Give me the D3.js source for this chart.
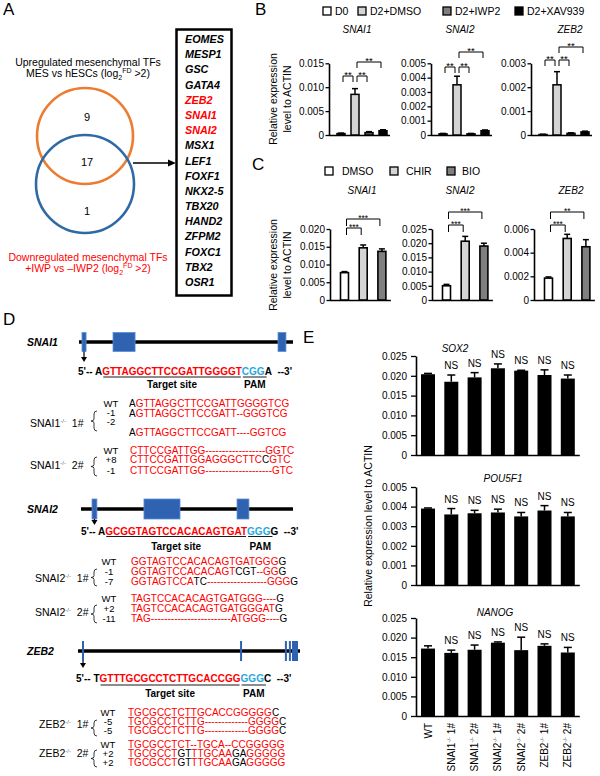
<!DOCTYPE html>
<html>
<head>
<meta charset="utf-8">
<script src="https://cdn.jsdelivr.net/npm/d3@7"></script>
<style>
  body { margin: 0; background: #fff; }
  text { white-space: pre; }
</style>
</head>
<body>
<svg id="fig" width="600" height="776"></svg>
<script>
// ---------------- data ----------------
const vennCounts = [9, 17, 1];   // up only, shared, down only
const sharedTFs = ["EOMES", "MESP1", "GSC", "GATA4", "ZEB2", "SNAI1", "SNAI2", "MSX1", "LEF1",
  "FOXF1", "NKX2-5", "TBX20", "HAND2", "ZFPM2", "FOXC1", "TBX2", "OSR1"];
const highlightTFs = ["ZEB2", "SNAI1", "SNAI2"];

const geneNames = ["SNAI1", "SNAI2", "ZEB2"];

// panel B
const bGroups = ["D0", "D2+DMSO", "D2+IWP2", "D2+XAV939"];
const bMean = [
  [0.0003, 0.0085, 0.0005, 0.0009],
  [0.00008, 0.0035, 0.00008, 0.0003],
  [0.00002, 0.0021, 0.00007, 0.00013]
];
const bErr = [
  [0.0001, 0.0012, 0.0002, 0.0002],
  [0.00003, 0.0006, 0.00003, 0.00005],
  [0.00001, 0.00055, 0.00002, 0.00003]
];
const bYMax = [0.015, 0.005, 0.003];
const bYStep = [0.005, 0.001, 0.001];
const bSig = [
  [[0, 1, "**", 0], [1, 2, "**", 0], [1, 3, "**", 1]],
  [[0, 1, "**", 0], [1, 2, "**", 0], [1, 3, "**", 1]],
  [[0, 1, "**", 0], [1, 2, "**", 0], [1, 3, "**", 1]]
];

// panel C
const cGroups = ["DMSO", "CHIR", "BIO"];
const cMean = [
  [0.0077, 0.0147, 0.0137],
  [0.0050, 0.0207, 0.0190],
  [0.00185, 0.0052, 0.0045]
];
const cErr = [
  [0.0003, 0.0008, 0.0007],
  [0.0005, 0.0017, 0.0010],
  [0.0001, 0.00035, 0.0006]
];
const cYMax = [0.020, 0.025, 0.006];
const cYStep = [0.005, 0.005, 0.002];
const cSig = [
  [[0, 1, "***", 0], [0, 2, "***", 1]],
  [[0, 1, "***", 0], [0, 2, "***", 1]],
  [[0, 1, "***", 0], [0, 2, "**", 1]]
];

// panel D
const exons = [
  [[1.4, 3.3], [15.9, 26.2], [93.0, 96.7]],
  [[5.2, 7.5], [29.7, 46.7], [73.6, 79.2]],
  [[1.8, 2.7], [73.0, 73.9], [93.2, 94.1], [95.0, 95.9], [96.4, 99.1]]
];
const targetSeqs = [
  [["5'-- A", "k"], ["GTTAGGCTTCCGATTGGGGT", "r"], ["CGG", "b"], ["A", "k"], ["  --3'", "k"]],
  [["5'-- A", "k"], ["GCGGTAGTCCACACAGTGAT", "r"], ["GGG", "b"], ["G", "k"], ["  --3'", "k"]],
  [["5'-- T", "k"], ["GTTTGCGCCTCTTGCACCGG", "r"], ["GGG", "b"], ["C", "k"], ["  --3'", "k"]]
];
const koClones = [
  { gene: "SNAI1", clone: "1#", rows: [
    ["WT", [["A", "k"], ["GTTAGGCTTCCGATTGGGGTCG", "r"]]],
    ["-1", [["A", "k"], ["GTTAGGCTTCCGATT--GGGTCG", "r"]]],
    ["-2", [["A", "k"], ["GTTAGGCTTCCGATT----GGTCG", "r"]]]] },
  { gene: "SNAI1", clone: "2#", rows: [
    ["WT", [["CTTCCGATTGG------------------GGTC", "r"]]],
    ["+8", [["CTTCCGATTGGAGGGCTTC", "r"], ["C", "k"], ["GTC", "r"]]],
    ["-1", [["CTTCCGATTGG--------------------GTC", "r"]]]] },
  { gene: "SNAI2", clone: "1#", rows: [
    ["WT", [["GGTAGTCCACACAGTGATGGG", "r"], ["G", "k"]]],
    ["-1", [["GGTAGTCCACACAGT", "r"], ["CGT", "k"], ["--GG", "r"], ["G", "k"]]],
    ["-7", [["GGTAGTCCA", "r"], ["TC", "k"], ["------------------GGG", "r"], ["G", "k"]]]] },
  { gene: "SNAI2", clone: "2#", rows: [
    ["WT", [["TAGTCCACACAGTGATGGG----", "r"], ["G", "k"]]],
    ["+2", [["TAGTCCACACAGTGATGGGAT", "r"], ["G", "k"]]],
    ["-11", [["TAG------------------------ATGGG----", "r"], ["G", "k"]]]] },
  { gene: "ZEB2", clone: "1#", rows: [
    ["WT", [["TGCGCCTCTTGCACCGGGGG", "r"], ["C", "k"]]],
    ["-5", [["TGCGCCTCTTG-------------GGGG", "r"], ["C", "k"]]],
    ["-5", [["TGCGCCTCTTG-------------GGGG", "r"], ["C", "k"]]]] },
  { gene: "ZEB2", clone: "2#", rows: [
    ["WT", [["TGCGCCTCT--TGCA--CCGGGGG", "r"]]],
    ["+2", [["TGCGCCT", "r"], ["GT", "k"], ["TTGCAA", "r"], ["GA", "k"], ["GGGGG", "r"]]],
    ["+2", [["TGCGCCT", "r"], ["GT", "k"], ["TTGCAA", "r"], ["GA", "k"], ["GGGGG", "r"]]]] }
];

// panel E
const eLines = [["WT", ""], ["SNAI1", "1#"], ["SNAI1", "2#"], ["SNAI2", "1#"], ["SNAI2", "2#"], ["ZEB2", "1#"], ["ZEB2", "2#"]];
const eGenes = ["SOX2", "POU5F1", "NANOG"];
const eMean = [
  [0.0204, 0.0185, 0.0196, 0.0219, 0.0213, 0.0202, 0.0193],
  [0.0039, 0.0036, 0.00366, 0.0037, 0.0035, 0.0038, 0.0035],
  [0.0172, 0.0161, 0.0169, 0.0187, 0.0168, 0.0179, 0.0162]
];
const eErr = [
  [0.0002, 0.0017, 0.0012, 0.0011, 0.0001, 0.0013, 0.0009],
  [0.00003, 0.0003, 0.00015, 0.00017, 0.0002, 0.00025, 0.0002],
  [0.0007, 0.0007, 0.0012, 0.0002, 0.0033, 0.0005, 0.0013]
];
const eYMax = [0.025, 0.005, 0.025];
const eYStep = [0.005, 0.001, 0.005];
const eSig = ["", "NS", "NS", "NS", "NS", "NS", "NS"];

// ---------------- drawing ----------------
const FONT = "'Liberation Sans', Arial, sans-serif";
const RED = "#ff0000";
const COL = { k: "#000", r: RED, b: "#29a8e0" };
const svg = d3.select("#fig").attr("font-family", FONT);

function panelLabel(t, x, y) {
  svg.append("text").attr("x", x).attr("y", y).attr("font-size", 17).text(t);
}

function legend(items, fills, boxX, textX, yc) {
  items.forEach((t, i) => {
    svg.append("rect").attr("x", boxX[i]).attr("y", yc - 4).attr("width", 8).attr("height", 8)
      .attr("fill", fills[i]).attr("stroke", "#000").attr("stroke-width", 1.3);
    svg.append("text").attr("x", textX[i]).attr("y", yc + 3.8).attr("font-size", 10.5).text(t);
  });
}

function italicTitle(t, x, y) {
  svg.append("text").attr("x", x).attr("y", y).attr("text-anchor", "middle")
    .attr("font-size", 10).attr("font-style", "italic").text(t);
}

function yLabel(lines, xs, yc) {
  lines.forEach((t, i) => {
    svg.append("text").attr("transform", `translate(${xs[i]},${yc}) rotate(-90)`)
      .attr("text-anchor", "middle").attr("font-size", 10.5).text(t);
  });
}

function barChart(o) {
  const g = svg.append("g");
  const y = d3.scaleLinear().domain([0, o.yMax]).range([o.y0, o.yTop]);
  const x = d3.scalePoint().domain(o.cats)
    .range([o.axisX + o.first, o.axisX + o.first + o.step * (o.cats.length - 1)]);
  const ticks = d3.range(0, o.yMax + o.yStep / 2, o.yStep);

  const ax = g.append("g").attr("transform", `translate(${o.axisX},0)`)
    .call(d3.axisLeft(y).tickValues(ticks).tickSize(o.tickSize).tickSizeOuter(0).tickPadding(o.tickPad)
      .tickFormat(d => d === 0 ? "0" : d3.format(".3f")(d)));
  ax.attr("font-family", FONT).attr("font-size", 10);
  ax.selectAll(".tick line").attr("stroke-width", 1.3);
  ax.select(".domain").attr("stroke-width", 1.6);

  g.append("line").attr("x1", o.axisX).attr("x2", x.range()[1] + o.tail)
    .attr("y1", o.y0 + 0.5).attr("y2", o.y0 + 0.5).attr("stroke", "#000").attr("stroke-width", 1.6);

  // error bars
  o.cats.forEach((c, i) => {
    const top = y(o.mean[i] + o.err[i]);
    g.append("line").attr("x1", x(c)).attr("x2", x(c)).attr("y1", y(o.mean[i])).attr("y2", top)
      .attr("stroke", "#000").attr("stroke-width", 1.5);
    g.append("line").attr("x1", x(c) - o.capW / 2).attr("x2", x(c) + o.capW / 2)
      .attr("y1", top).attr("y2", top).attr("stroke", "#000").attr("stroke-width", 1.5);
  });

  g.selectAll("rect.bar").data(o.cats).join("rect").attr("class", "bar")
    .attr("x", d => x(d) - o.barW / 2)
    .attr("y", (d, i) => y(o.mean[i]))
    .attr("width", o.barW)
    .attr("height", (d, i) => o.y0 - y(o.mean[i]))
    .attr("fill", (d, i) => o.fills[i])
    .attr("stroke", "#000").attr("stroke-width", o.sw);

  // significance brackets
  (o.sig || []).forEach(([a, b, lab, lvl]) => {
    const x1 = x(o.cats[a]) + 2, x2 = x(o.cats[b]) - 2, yb = o.brY[lvl];
    g.append("path").attr("d", `M${x1},${yb + o.leg}V${yb}H${x2}V${yb + o.leg}`)
      .attr("fill", "none").attr("stroke", "#000").attr("stroke-width", 1);
    g.append("text").attr("x", (x1 + x2) / 2).attr("y", yb + 1.5).attr("text-anchor", "middle")
      .attr("font-size", o.sigSize).text(lab);
  });

  // NS labels
  if (o.ns) {
    o.cats.forEach((c, i) => {
      if (!o.ns[i]) return;
      g.append("text").attr("x", x(c)).attr("y", y(o.mean[i] + o.err[i]) - 6)
        .attr("text-anchor", "middle").attr("font-size", 10).text(o.ns[i]);
    });
  }
  return x;
}

// ---------- Panel A ----------
panelLabel("A", 3, 15);
const gA = svg.append("g");
gA.append("text").attr("x", 88).attr("y", 66).attr("text-anchor", "middle").attr("font-size", 10.5)
  .text("Upregulated mesenchymal TFs");
function logLine(g, y, prefix, color) {
  const t = g.append("text").attr("x", 88).attr("y", y).attr("text-anchor", "middle")
    .attr("font-size", 10.5).attr("fill", color);
  t.append("tspan").text(prefix + "(log");
  t.append("tspan").attr("font-size", 7).attr("dy", 3).text("2");
  t.append("tspan").attr("font-size", 7).attr("dy", -7.5).text("FD");
  t.append("tspan").attr("dy", 4.5).text(" >2)");
}
logLine(gA, 77, "MES vs hESCs ", "#000");

gA.append("circle").attr("cx", 85).attr("cy", 136).attr("r", 48)
  .attr("fill", "none").attr("stroke", "#ec7c30").attr("stroke-width", 2.6);
gA.append("circle").attr("cx", 85).attr("cy", 184).attr("r", 49)
  .attr("fill", "none").attr("stroke", "#2f6aa5").attr("stroke-width", 2.6);
[[117, 0], [162, 1], [211, 2]].forEach(([yc, i]) => {
  gA.append("text").attr("x", 87).attr("y", yc + 4).attr("text-anchor", "middle")
    .attr("font-size", 11).text(vennCounts[i]);
});

gA.append("text").attr("x", 88).attr("y", 261).attr("text-anchor", "middle").attr("font-size", 10.5)
  .attr("fill", RED).text("Downregulated mesenchymal TFs");
logLine(gA, 272, "+IWP vs \u2013IWP2 ", RED);

// arrow
gA.append("line").attr("x1", 133).attr("x2", 169).attr("y1", 163).attr("y2", 163)
  .attr("stroke", "#000").attr("stroke-width", 1.5);
gA.append("path").attr("d", "M176,163L168,159.5L168,166.5Z").attr("fill", "#000");

// gene list box
gA.append("rect").attr("x", 176.5).attr("y", 29.5).attr("width", 55).attr("height", 266)
  .attr("fill", "none").attr("stroke", "#000").attr("stroke-width", 2.5);
const tfY = d3.scalePoint().domain(sharedTFs).range([43, 286]);
gA.selectAll("text.tf").data(sharedTFs).join("text").attr("class", "tf")
  .attr("x", 185).attr("y", d => tfY(d))
  .attr("font-size", 10.8).attr("font-weight", "bold").attr("font-style", "italic")
  .attr("fill", d => highlightTFs.includes(d) ? RED : "#000").text(d => d);

// ---------- Panel B ----------
panelLabel("B", 255, 15);
const bFills = ["#ffffff", "#d4d4d4", "#7f7f7f", "#000000"];
legend(bGroups, bFills, [323, 358, 443, 515], [335, 370, 455, 527], 11);
yLabel(["Relative expression", "level to ACTIN"], [276.5, 290.5], 99);
const bAxisX = [329, 431, 531];
const bTitleX = [357, 460, 570];
const bBrY = [[76, 62], [67, 52], [60, 47]];
geneNames.forEach((gn, i) => {
  barChart({
    cats: bGroups, mean: bMean[i], err: bErr[i], yMax: bYMax[i], yStep: bYStep[i],
    axisX: bAxisX[i], y0: 135, yTop: 63.3, first: 12, step: 14, tail: 7, barW: 8,
    fills: bFills, sw: 1.5, capW: 6, sig: bSig[i], brY: bBrY[i], leg: 6, sigSize: 9.5,
    tickSize: 3.5, tickPad: 1.5
  });
  italicTitle(gn, bTitleX[i], 32.5);
});

// ---------- Panel C ----------
panelLabel("C", 252, 170);
const cFills = ["#ffffff", "#d4d4d4", "#7f7f7f"];
legend(cGroups, cFills, [325, 390, 447], [342, 406, 462], 171);
yLabel(["Relative expression", "level to ACTIN"], [276.5, 290.5], 265);
const cAxisX = [330, 432, 534];
const cTitleX = [362, 460, 571];
const cBrY = [[228, 219], [225, 212], [225, 212]];
geneNames.forEach((gn, i) => {
  barChart({
    cats: cGroups, mean: cMean[i], err: cErr[i], yMax: cYMax[i], yStep: cYStep[i],
    axisX: cAxisX[i], y0: 300, yTop: 229, first: 14.5, step: 18.7, tail: 9, barW: 8,
    fills: cFills, sw: 1.6, capW: 6, sig: cSig[i], brY: cBrY[i], leg: 7, sigSize: 8.5,
    tickSize: 3.5, tickPad: 1.5
  });
  italicTitle(gn, cTitleX[i], 193.5);
});

// ---------- Panel D ----------
panelLabel("D", 3, 325);
const gD = svg.append("g");

function segText(g, x, y, segs, size, weight) {
  let cx = x;
  const spans = [];
  segs.forEach(([txt, c]) => {
    const t = g.append("text").attr("x", cx).attr("y", y).attr("font-size", size)
      .attr("font-weight", weight).attr("fill", COL[c]).attr("xml:space", "preserve").text(txt);
    const w = t.node().getComputedTextLength();
    spans.push([cx, cx + w]);
    cx += w;
  });
  return spans;
}

function geneModel(i, o) {
  const x = d3.scaleLinear().domain([0, 100]).range([o.x0, o.x1]);
  gD.append("text").attr("x", 27).attr("y", o.y + 4).attr("font-size", 10.5)
    .attr("font-weight", "bold").attr("font-style", "italic").text(geneNames[i]);
  gD.append("line").attr("x1", o.x0).attr("x2", o.x1).attr("y1", o.y).attr("y2", o.y)
    .attr("stroke", "#000").attr("stroke-width", 3.5);
  gD.selectAll(null).data(exons[i]).join("rect")
    .attr("x", d => x(d[0])).attr("y", o.y - o.h / 2)
    .attr("width", d => x(d[1]) - x(d[0])).attr("height", o.h)
    .attr("fill", "#2f62b0").attr("stroke", o.thin ? "none" : "#5a8fd8").attr("stroke-width", 0.8);
  const ax = x((exons[i][0][0] + exons[i][0][1]) / 2);
  gD.append("line").attr("x1", ax).attr("x2", ax).attr("y1", o.y + o.h / 2).attr("y2", o.arrowY - 4)
    .attr("stroke", "#000").attr("stroke-width", 1.2);
  gD.append("path").attr("d", `M${ax},${o.arrowY}L${ax - 3},${o.arrowY - 5}L${ax + 3},${o.arrowY - 5}Z`)
    .attr("fill", "#000");
  const sp = segText(gD, o.seqX, o.seqY, targetSeqs[i], 10, "bold");
  [[sp[1][0] + 1, sp[1][1] - 1, "Target site"], [sp[2][0] + 1, sp[2][1] + 2, "PAM"]].forEach(([a, b, t]) => {
    gD.append("line").attr("x1", a).attr("x2", b).attr("y1", o.ulY).attr("y2", o.ulY)
      .attr("stroke", "#000").attr("stroke-width", 0.9);
    gD.append("text").attr("x", (a + b) / 2).attr("y", o.labY).attr("text-anchor", "middle")
      .attr("font-size", 10).attr("font-weight", "bold").text(t);
  });
}

function brace(x, y0, y1) {
  const ym = (y0 + y1) / 2, xi = x - 3, xo = x - 6;
  gD.append("path")
    .attr("d", `M${x},${y0}Q${xi},${y0} ${xi},${y0 + 3}L${xi},${ym - 2}Q${xi},${ym} ${xo},${ym}` +
      `Q${xi},${ym} ${xi},${ym + 2}L${xi},${y1 - 3}Q${xi},${y1} ${x},${y1}`)
    .attr("fill", "none").attr("stroke", "#222").attr("stroke-width", 0.9);
}

function drawClone(k, o) {
  const c = koClones[k];
  const t = gD.append("text").attr("x", o.labX).attr("y", o.labY).attr("font-size", 10.5);
  t.append("tspan").text(c.gene);
  t.append("tspan").attr("font-size", 6).attr("fill", "#666").attr("dy", -4).text("-/-");
  t.append("tspan").attr("dy", 4).text("  " + c.clone);
  brace(o.brace[0], o.brace[1], o.brace[2]);
  c.rows.forEach(([lab, segs], r) => {
    gD.append("text").attr("x", o.rowX).attr("y", o.rowY[r]).attr("text-anchor", "middle")
      .attr("font-size", 9.5).text(lab);
    segText(gD, o.seqX, o.seqYs[r], segs, 10, "normal");
  });
}

geneModel(0, { x0: 79, x1: 293, y: 342, h: 19, arrowY: 362, seqX: 78, seqY: 374.5, ulY: 377, labY: 388 });
drawClone(0, { labX: 30, labY: 426.5, rowX: 111, rowY: [406.5, 416, 424.5], seqX: 129,
  seqYs: [407, 417, 435.5], brace: [97, 411, 431] });
drawClone(1, { labX: 30, labY: 469, rowX: 111, rowY: [453.5, 463, 473.5], seqX: 130,
  seqYs: [453.5, 462.5, 473.5], brace: [97, 457, 476] });

geneModel(1, { x0: 81, x1: 293, y: 509, h: 20, arrowY: 525, seqX: 81, seqY: 534.5, ulY: 536.5, labY: 549.5 });
drawClone(2, { labX: 35, labY: 582, rowX: 109, rowY: [565, 574.5, 584.5], seqX: 131,
  seqYs: [565, 574.5, 584.5], brace: [97, 569, 586] });
drawClone(3, { labX: 35, labY: 616, rowX: 109, rowY: [602, 612, 622], seqX: 131,
  seqYs: [602, 612, 622], brace: [97, 605, 623] });

geneModel(2, { x0: 78, x1: 300, y: 651, h: 20, arrowY: 668, seqX: 76, seqY: 681.5, ulY: 685, labY: 696.5, thin: true });
drawClone(4, { labX: 39, labY: 728, rowX: 108, rowY: [716, 725, 733.5], seqX: 128,
  seqYs: [716, 725, 733.5], brace: [97, 720, 736] });
drawClone(5, { labX: 39, labY: 757, rowX: 108, rowY: [747.5, 757, 766], seqX: 128,
  seqYs: [747.5, 757, 766], brace: [97, 750, 767] });

// ---------- Panel E ----------
panelLabel("E", 303, 343);
const eCats = eLines.map(d => d.join(" ").trim());
const eY0 = [455, 585, 716], eTop = [356, 487, 618];
const eTitle = [[455, 352], [503, 481.5], [495, 615.5]];
let eX;
eGenes.forEach((gn, i) => {
  eX = barChart({
    cats: eCats, mean: eMean[i], err: eErr[i], yMax: eYMax[i], yStep: eYStep[i],
    axisX: 416, y0: eY0[i], yTop: eTop[i], first: 12, step: 23.3, tail: 12, barW: 14,
    fills: eCats.map(() => "#000"), sw: 0, capW: 8, ns: eSig,
    tickSize: 5, tickPad: 4
  });
  italicTitle(gn, eTitle[i][0], eTitle[i][1]);
});
svg.append("text").attr("transform", "translate(371.5,526) rotate(-90)")
  .attr("text-anchor", "middle").attr("font-size", 10.5).text("Relative expression level to ACTIN");

eLines.forEach(([g, cl], i) => {
  const t = svg.append("text").attr("transform", `translate(${eX(eCats[i]) + 3.5},723) rotate(-90)`)
    .attr("text-anchor", "end").attr("font-size", 10);
  t.append("tspan").text(g);
  if (cl) {
    t.append("tspan").attr("font-size", 6).attr("fill", "#555").attr("dy", -4).text("-/-");
    t.append("tspan").attr("dy", 4).text(" " + cl);
  }
});
</script>
</body>
</html>
